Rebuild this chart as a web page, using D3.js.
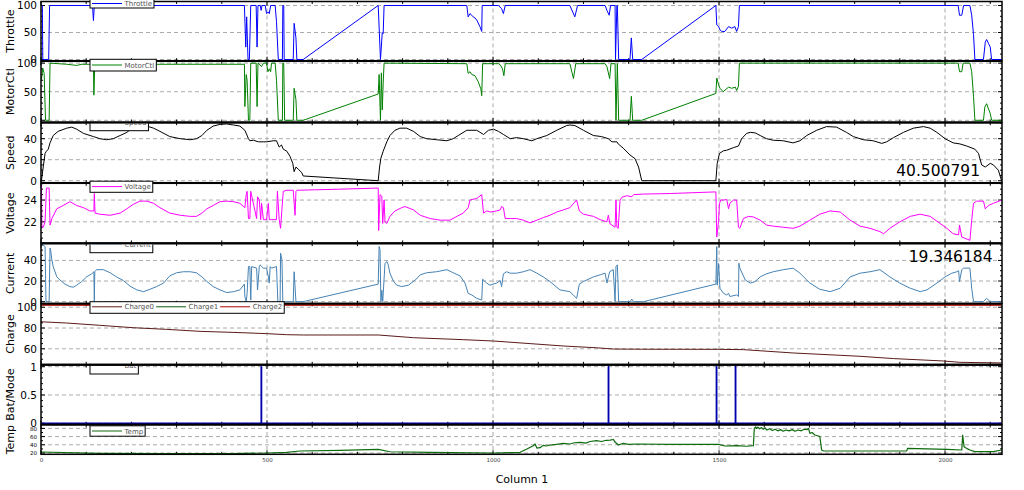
<!DOCTYPE html>
<html><head><meta charset="utf-8">
<script src="https://cdn.jsdelivr.net/npm/d3@7"></script>
<style>body{margin:0;background:#fff}svg{display:block;font-family:"DejaVu Sans",sans-serif}</style>
</head><body><svg id="c" width="1024" height="490"></svg>
<script>
// ---------------- data (x = sample index, "Column 1") ----------------
const xDomain = [0, 2126];
const xTickValues = [0, 500, 1000, 1500, 2000];
const xLabel = "Column 1";

const throttle = [[0,100],[3,100],[4,0],[17,0],[19,100],[114,100],[116,72],[118,100],[450,100],[453,23],[455,79],[458,0],[461,0],[464,100],[476,100],[478,23],[480,100],[485,100],[487,91],[489,100],[496,100],[499,85],[503,88],[505,85],[508,100],[518,100],[521,70],[525,0],[534,0],[535,100],[537,100],[538,0],[558,0],[560,67],[564,40],[566,0],[580,0],[746,100],[751,0],[755,50],[757,48],[759,100],[942,100],[945,79],[949,85],[953,82],[956,79],[960,77],[964,73],[971,61],[975,52],[976,100],[1012,100],[1019,94],[1023,85],[1027,100],[1170,100],[1181,79],[1187,100],[1248,100],[1252,91],[1257,82],[1260,100],[1270,100],[1271,0],[1274,100],[1275,100],[1278,0],[1303,0],[1306,40],[1309,0],[1329,0],[1493,100],[1495,64],[1499,61],[1502,55],[1506,52],[1513,52],[1521,61],[1528,58],[1535,61],[1539,52],[1543,61],[1545,100],[2029,100],[2032,82],[2037,82],[2041,100],[2055,100],[2059,82],[2063,46],[2066,0],[2085,0],[2089,32],[2092,37],[2096,30],[2100,23],[2103,0],[2125,0]];

const motorCtl = [[1,71],[4,91],[7,82],[10,0],[18,0],[20,100],[57,98],[79,96],[90,98],[116,98],[117,44],[119,98],[450,98],[451,24],[454,80],[456,70],[459,0],[462,0],[464,100],[476,100],[478,24],[480,100],[488,94],[492,100],[499,100],[502,85],[505,90],[508,85],[510,100],[518,100],[521,70],[525,0],[534,0],[535,100],[537,100],[539,0],[558,0],[560,56],[564,36],[566,0],[580,0],[746,46],[748,80],[751,0],[753,83],[755,18],[757,65],[759,100],[942,99],[945,82],[949,85],[953,80],[960,78],[967,68],[973,55],[975,43],[977,99],[1012,99],[1016,97],[1021,90],[1024,78],[1027,99],[1170,99],[1178,73],[1183,99],[1248,99],[1252,94],[1258,73],[1261,99],[1270,99],[1272,0],[1275,99],[1278,0],[1303,0],[1306,42],[1309,0],[1329,0],[1493,47],[1495,74],[1499,62],[1502,56],[1509,50],[1521,58],[1528,56],[1536,58],[1539,52],[1543,60],[1545,100],[2029,100],[2032,85],[2037,85],[2040,100],[2055,100],[2059,85],[2063,42],[2066,0],[2085,0],[2088,23],[2092,29],[2096,20],[2100,12],[2103,0],[2125,0]];

const speed = [[1,0],[4,10],[9,26],[12,28],[16,30],[20,36],[27,43],[38,47],[57,50],[68,51],[79,49],[94,45],[116,42],[130,40],[145,39],[160,40],[175,43],[190,46],[204,51],[219,53],[234,52],[249,50],[263,47],[285,42],[308,40],[330,39],[344,40],[356,43],[367,48],[381,52],[396,53.6],[411,54],[426,53],[440,52],[451,48],[459,40],[462,38],[470,38.5],[481,37],[492,37],[499,37],[514,38],[521,38],[527,32],[532,34],[536,30],[544,28],[551,23],[557,16.5],[560,8.6],[564,13],[569,11],[577,7.6],[580,4.5],[746,0],[749,13],[752,21.5],[757,28],[765,37],[772,43],[783,48],[794,50],[809,50],[824,47],[839,42],[853,40],[875,39],[898,38],[912,40],[923,43],[942,48],[964,48],[979,44],[990,48],[1001,49],[1012,47],[1023,44],[1038,40],[1052,41],[1067,40],[1086,38],[1097,40],[1119,43],[1141,48],[1163,52.5],[1170,53],[1181,52.5],[1200,48],[1222,43],[1240,42],[1255,40],[1263,37],[1274,37],[1277,35],[1288,31],[1303,24.5],[1314,21],[1322,13],[1329,0],[1493,0],[1496,16.5],[1501,26],[1510,28.5],[1517,29],[1532,31.5],[1543,33],[1550,40],[1561,45],[1569,46],[1580,45.5],[1591,43],[1605,40],[1620,38.5],[1642,38],[1664,36],[1679,38],[1694,43],[1716,48],[1738,51.5],[1760,51],[1782,46],[1797,42],[1819,39],[1841,38],[1860,35.5],[1871,37],[1886,41],[1908,46],[1930,50],[1952,51.5],[1967,50],[1982,46],[2000,40],[2018,36],[2033,35],[2048,33],[2066,30],[2074,26],[2081,15],[2089,13],[2100,16.5],[2107,15],[2118,10],[2125,0]];

const voltage = [[1,25.4],[2,21.5],[5,21.5],[9,22.0],[12,25.1],[18,25.1],[20,21.7],[24,22.3],[35,23.2],[49,23.5],[64,23.85],[79,23.5],[94,23.3],[108,23.0],[117,23.0],[118,24.6],[119.5,22.8],[130,22.7],[153,22.6],[175,22.8],[190,23.2],[204,23.6],[219,23.9],[234,23.9],[249,23.7],[263,23.3],[285,22.8],[308,22.6],[330,22.5],[344,22.5],[356,22.8],[367,23.2],[381,23.5],[396,23.85],[411,23.9],[426,23.85],[440,23.7],[451,23.3],[454,24.5],[456,24.8],[459,22.3],[462,22.3],[464,24.8],[477,22.3],[479,24.3],[483,24.0],[486,22.2],[488,23.7],[492,22.2],[499,22.2],[503,23.7],[505,22.2],[510,22.2],[521,22.2],[523,24.8],[527,22.2],[530,21.4],[535,24.3],[536,24.8],[544,24.9],[558,24.9],[562,22.6],[564,24.8],[566,24.9],[661,25.0],[746,25.1],[747,21.2],[750,24.5],[754,24.35],[756,21.85],[759,24],[761,22.0],[765,21.85],[772,22.5],[783,23.0],[798,23.3],[805,23.4],[824,23.1],[839,22.6],[861,22.3],[883,22.15],[905,22.15],[920,22.5],[934,22.8],[945,23.3],[949,24],[964,24.15],[975,24.5],[979,22.8],[986,23.0],[994,22.9],[1008,23.0],[1016,23.1],[1019,23.4],[1023,23.3],[1027,22.3],[1038,22.3],[1052,22.3],[1067,22.15],[1082,21.9],[1097,22.15],[1112,22.4],[1126,22.6],[1141,22.9],[1156,23.1],[1170,23.3],[1185,24],[1191,23.0],[1200,22.7],[1222,22.5],[1237,22.2],[1252,22.0],[1255,22.6],[1259,21.8],[1263,21.7],[1270,21.5],[1272,24],[1274,21.5],[1277,21.4],[1281,24],[1285,24.25],[1296,24.4],[1307,24.3],[1311,24.5],[1333,24.55],[1392,24.6],[1493,24.75],[1495,20.6],[1499,22.1],[1501,23.7],[1504,24],[1510,24],[1517,24.05],[1521,23.2],[1524,23.7],[1532,24],[1539,24],[1543,21.5],[1546,21.4],[1554,22.3],[1565,22.5],[1576,22.45],[1591,22.15],[1605,21.7],[1620,21.6],[1642,21.5],[1664,21.4],[1679,21.6],[1701,22.15],[1723,22.7],[1746,23],[1768,22.9],[1790,22.15],[1812,21.6],[1834,21.4],[1856,21.1],[1864,20.9],[1878,21.4],[1900,22.0],[1923,22.5],[1945,22.7],[1967,22.5],[1989,21.85],[2004,21.4],[2018,20.9],[2030,20.8],[2032,21.7],[2037,20.6],[2055,20.3],[2059,22.15],[2063,23.7],[2070,23.9],[2085,23.9],[2089,23.2],[2096,23.5],[2107,23.7],[2125,24]];

const current = [[1,53.5],[4,55],[9,53.5],[11,0],[18,0],[20,52],[21.4,50],[24,40.6],[27,34],[35,24],[42,21],[53,17],[64,14.6],[72,14],[79,16],[90,19.5],[101,24],[112,27],[117,29],[118,0],[119,29],[123,31],[138,31],[153,28],[167,24],[182,20.5],[197,15],[212,11.4],[227,9.7],[241,12],[256,14.6],[271,18],[285,25],[300,28],[315,29],[330,29],[344,28],[356,24],[367,19.5],[381,14.6],[396,11.4],[411,8.8],[426,9.7],[440,11.4],[450,17],[451,5],[454,0],[456,8],[459,34],[462,34],[464,1.5],[466,34],[477,32.5],[479,11.4],[483,34],[485,35.7],[488,34],[492,32.5],[499,32.5],[503,24],[505,18],[507,34],[510,32.5],[521,34],[524,0],[529,0],[530,47],[533,40.6],[535,0],[558,0],[560,29],[564,0],[580,0],[746,17],[748,53.5],[750,50.5],[752,0],[754,11],[756,0],[761,37],[765,39],[768,36],[772,27.6],[780,19.5],[787,16],[798,14.6],[813,16],[828,21],[839,26],[853,28],[875,29],[898,31],[912,28],[927,25],[938,18],[945,8],[953,6.5],[964,3.2],[975,1.6],[977,21.8],[986,18],[993,16],[1008,18],[1016,20.5],[1019,14.6],[1023,27],[1030,29],[1038,27.6],[1052,27.6],[1067,29],[1082,31],[1097,27.6],[1111,24],[1126,19.5],[1148,11.4],[1170,9.7],[1185,3.2],[1191,17],[1200,19.5],[1222,24],[1237,26],[1248,27.6],[1252,18],[1258,29],[1266,31],[1270,0],[1272,34],[1275,35.7],[1278,0],[1303,0],[1307,2.5],[1311,0],[1333,0],[1493,17],[1495,53.5],[1496,16],[1499,37],[1502,13],[1510,8],[1517,6.5],[1521,8],[1524,5],[1539,6.5],[1543,5],[1544,37.3],[1546,32.5],[1558,21],[1569,18],[1580,19.5],[1591,24],[1605,27],[1620,29],[1642,31],[1664,32.5],[1679,27.6],[1701,18],[1723,12],[1746,9.7],[1768,13],[1790,24],[1812,27.6],[1834,29],[1856,31],[1878,24],[1900,18],[1923,13],[1945,9.7],[1960,11.4],[1982,18],[2000,24],[2015,27.6],[2026,29],[2030,30],[2032,19.5],[2037,31],[2041,32.5],[2055,32.5],[2059,13],[2063,0],[2085,0],[2092,3.2],[2100,0],[2125,0]];

const charge0 = [[0,86],[57,84.8],[130,82.6],[204,80.3],[278,78.7],[352,76.8],[425,75.8],[499,74.6],[543,73.6],[580,73.3],[746,73.3],[824,70.7],[934,68.8],[1001,67.5],[1082,65],[1156,62.7],[1229,61],[1266,59.8],[1329,59.6],[1499,59.5],[1554,59.2],[1664,56],[1812,52.8],[1886,50.6],[1996,48.3],[2033,47],[2125,46.4]];
const charge1 = [[0,102.6],[2125,102.6]];
const charge2 = [[0,102.1],[2125,102.1]];

const bat = [[0,0],[487,0],[487,1],[488,1],[488,0],[1255,0],[1255,1],[1256,1],[1256,0],[1494,0],[1494,1],[1495,1],[1495,0],[1536,0],[1536,1],[1537,1],[1537,0],[2125,0]];

const temp = [[0,22.4],[130,19.2],[278,18.4],[425,18.4],[499,20],[543,21.6],[573,24.9],[661,26.5],[746,29],[772,23],[861,21.6],[1001,20],[1060,21.6],[1075,29.7],[1089,37.8],[1093,41.9],[1097,32],[1104,33],[1111,38.6],[1118,37],[1126,39.4],[1140,41],[1156,43.5],[1170,42],[1180,45],[1193,46],[1205,44],[1215,48],[1229,50],[1240,48],[1250,51],[1259,51.6],[1266,53],[1270,46.7],[1277,39.4],[1288,43.5],[1300,41],[1318,41.9],[1392,41],[1499,41],[1513,37],[1540,38],[1560,36.5],[1576,37.8],[1578,80],[1581,84],[1583,80],[1586,83],[1590,79],[1594,82],[1598,78],[1602,81],[1606,76],[1612,79],[1618,75],[1624,78],[1630,74],[1636,77],[1642,73],[1648,76],[1655,74],[1662,77],[1668,73],[1675,76],[1682,74],[1688,78],[1694,77],[1698,80],[1701,68],[1706,70],[1712,64],[1718,62],[1723,60],[1727,27.3],[1731,24.9],[1812,24.9],[1915,24.9],[1917,31.3],[2004,29],[2037,27.3],[2039,63.7],[2042,35.4],[2050,30],[2055,27.3],[2066,23.2],[2107,23.2],[2125,27.3]];

const throttleTicks = [0,50,100];
const motorTicks = [0,50,100];
const speedTicks = [0,20,40];
const voltageTicks = [22,24];
const currentTicks = [0,20,40];
const chargeTicks = [60,80,100];
const batTicks = [0,0.5,1];
const tempTicks = [20,40,60,80];

const speedReadout = "40.500791";
const currentReadout = "19.346184";

// ---------------- layout ----------------
const L = 41, R = 1002, W = 1024, H = 490;
const panels = [
  {title:"Throttle", top:1.5, bottom:60.7, domain:[-2.2,107.4], ticks:throttleTicks, minor:10, fs:10.5,
   series:[{name:"Throttle", data:throttle, color:"#0000ff"}], leg:{top:-2.5, bot:8, cy:3.5}},
  {title:"MotorCtl", top:61.3, bottom:122, domain:[-3,103.2], ticks:motorTicks, minor:10, fs:10.5,
   series:[{name:"MotorCtl", data:motorCtl, color:"#008000"}], leg:{top:59.3, bot:71, cy:65}},
  {title:"Speed", top:122.7, bottom:182.7, domain:[-1.9,55.2], ticks:speedTicks, minor:5, fs:10.5,
   series:[{name:"Speed", data:speed, color:"#000000"}], leg:{top:118.5, bot:130.7, cy:122.6, clip:123.2}},
  {title:"Voltage", top:183.3, bottom:242.9, domain:[20.06,25.54], ticks:voltageTicks, minor:0.5, fs:10.5,
   series:[{name:"Voltage", data:voltage, color:"#ff00ff"}], leg:{top:181.2, bot:192.3, cy:186.6}},
  {title:"Current", top:243.6, bottom:303.3, domain:[-1.6,56.3], ticks:currentTicks, minor:5, fs:10.5,
   series:[{name:"Current", data:current, color:"#4682b4"}], leg:{top:239.5, bot:252.7, cy:244.2, clip:244.6}},
  {title:"Charge", top:303.8, bottom:364.3, domain:[45.1,103.3], ticks:chargeTicks, minor:5, fs:10.5,
   series:[{name:"Charge0", data:charge0, color:"#5a1a1a"},{name:"Charge1", data:charge1, color:"#0f5a0f", w:1.6},{name:"Charge2", data:charge2, color:"#b00000", w:1.6}],
   leg:{top:301.7, bot:313.3, cy:306.8}},
  {title:"Bat/Mode", top:365, bottom:424.3, domain:[-0.018,1.03], ticks:batTicks, minor:0.1, fs:10.5,
   series:[{name:"Bat", data:bat, color:"#0000b0", w:1.4}], leg:{top:359.5, bot:374, cy:365.3, clip:366}},
  {title:"Temp", top:425, bottom:454.3, domain:[16.8,88.3], ticks:tempTicks, minor:10, fs:5.5,
   series:[{name:"Temp", data:temp, color:"#0e6b0e", w:1.2}], leg:{top:425.8, bot:436.2, cy:431}}
];

const svg = d3.select("#c");
const defs = svg.append("defs");
const x = d3.scaleLinear().domain(xDomain).range([L, R]);
const gridColor = "#ababab";

panels.forEach((p, i) => {
  const y = d3.scaleLinear().domain(p.domain).range([p.bottom, p.top]);
  const g = svg.append("g");
  const cid = "clip" + i;
  defs.append("clipPath").attr("id", cid).append("rect")
    .attr("x", L).attr("y", p.top).attr("width", R - L).attr("height", p.bottom - p.top);

  // grid
  g.selectAll(".hg").data(p.ticks).join("line")
    .attr("x1", L).attr("x2", R).attr("y1", d => y(d)).attr("y2", d => y(d))
    .attr("stroke", gridColor).attr("stroke-dasharray", "4,3").attr("stroke-width", 1);
  g.selectAll(".vg").data(xTickValues.filter(v => v > 0)).join("line")
    .attr("x1", d => x(d)).attr("x2", d => x(d)).attr("y1", p.top).attr("y2", p.bottom)
    .attr("stroke", gridColor).attr("stroke-dasharray", "4,3").attr("stroke-width", 1);

  // minor / major ticks (inward)
  const xt = d3.range(0, xDomain[1], 100);
  g.selectAll(".xtt").data(xt).join("line")
    .attr("x1", d => x(d)).attr("x2", d => x(d)).attr("y1", p.top).attr("y2", d => p.top + (d % 500 === 0 ? 4 : 2.5))
    .attr("stroke", "#000").attr("stroke-width", 1);
  g.selectAll(".xtb").data(xt).join("line")
    .attr("x1", d => x(d)).attr("x2", d => x(d)).attr("y1", p.bottom).attr("y2", d => p.bottom - (d % 500 === 0 ? 4 : 2.5))
    .attr("stroke", "#000").attr("stroke-width", 1);
  const yt = d3.range(Math.ceil(p.domain[0] / p.minor) * p.minor, p.domain[1], p.minor);
  [L, R].forEach((xx, k) => {
    g.selectAll(".yt" + k).data(yt).join("line")
      .attr("x1", xx).attr("x2", d => xx + (k ? -1 : 1) * (p.ticks.some(t => Math.abs(t - d) < 1e-9) ? 4 : 2))
      .attr("y1", d => y(d)).attr("y2", d => y(d))
      .attr("stroke", "#000").attr("stroke-width", 1);
  });

  // series
  const line = d3.line().x(d => x(d[0])).y(d => y(d[1]));
  p.series.forEach(s => {
    g.append("path").attr("clip-path", `url(#${cid})`).attr("d", line(s.data))
      .attr("fill", "none").attr("stroke", s.color).attr("stroke-width", s.w || 1)
      .attr("stroke-linejoin", "round");
  });

  // frame
  g.append("rect").attr("x", L).attr("y", p.top).attr("width", R - L).attr("height", p.bottom - p.top)
    .attr("fill", "none").attr("stroke", "#000").attr("stroke-width", 1.5);

  // y axis labels
  const ax = d3.axisLeft(y).tickValues(p.ticks).tickSize(0).tickPadding(0)
    .tickFormat(d3.format("~g"));
  const ag = svg.append("g").attr("transform", `translate(${L - 4},0)`).call(ax);
  ag.select(".domain").remove();
  ag.selectAll("text").attr("font-size", p.fs).attr("font-family", "DejaVu Sans").attr("fill", "#000");

  // title
  svg.append("text").attr("transform", `translate(14,${(p.top + p.bottom) / 2}) rotate(-90)`)
    .attr("text-anchor", "middle").attr("font-size", 11).attr("fill", "#000").text(p.title);

  // legend
  const lg = svg.append("g");
  if (p.leg.clip) {
    const lid = "lclip" + i;
    defs.append("clipPath").attr("id", lid).append("rect")
      .attr("x", 0).attr("y", p.leg.clip).attr("width", W).attr("height", H);
    lg.attr("clip-path", `url(#${lid})`);
  }
  const box = lg.append("rect").attr("x", 90).attr("y", p.leg.top).attr("height", p.leg.bot - p.leg.top)
    .attr("fill", "#fff").attr("stroke", "#000").attr("stroke-width", 1);
  let cx = 92;
  p.series.forEach(s => {
    lg.append("line").attr("x1", cx).attr("x2", cx + 30).attr("y1", p.leg.cy).attr("y2", p.leg.cy)
      .attr("stroke", s.color).attr("stroke-width", 1);
    const t = lg.append("text").attr("x", cx + 32.5).attr("y", p.leg.cy).attr("dy", "0.36em")
      .attr("font-size", 7).attr("fill", "#555").text(s.name);
    cx = cx + 32.5 + t.node().getComputedTextLength() + 2;
  });
  box.attr("width", cx - 90);
  if (p.leg.clip) {
    svg.append("line").attr("x1", L).attr("x2", R).attr("y1", p.top).attr("y2", p.top)
      .attr("stroke", "#000").attr("stroke-width", 1.5);
  }
});

// x axis labels
const xa = d3.axisBottom(x).tickValues(xTickValues).tickSize(0).tickPadding(0).tickFormat(d3.format("d"));
const xg = svg.append("g").attr("transform", "translate(0,458)").call(xa);
xg.select(".domain").remove();
xg.selectAll("text").attr("font-size", 5.5).attr("font-family", "DejaVu Sans").attr("fill", "#444");

svg.append("text").attr("x", 522).attr("y", 483).attr("text-anchor", "middle")
  .attr("font-size", 11).attr("fill", "#000").text(xLabel);

// readouts
svg.append("text").attr("x", 980).attr("y", 176).attr("text-anchor", "end")
  .attr("font-size", 15.5).attr("fill", "#000").text(speedReadout);
svg.append("text").attr("x", 992.5).attr("y", 261.7).attr("text-anchor", "end")
  .attr("font-size", 15.5).attr("fill", "#000").text(currentReadout);
</script></body></html>
